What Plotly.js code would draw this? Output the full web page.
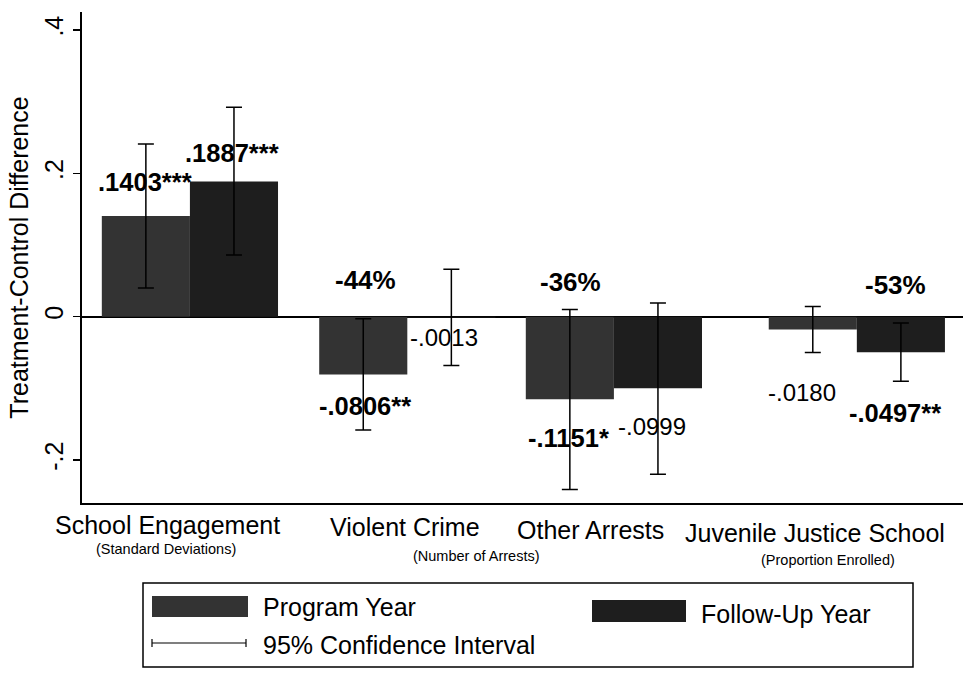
<!DOCTYPE html>
<html><head><meta charset="utf-8">
<script src="https://cdn.plot.ly/plotly-3.0.1.min.js"></script>
<style>html,body{margin:0;padding:0;background:#fff;} #chart{width:963px;height:673px;}</style>
</head><body><div id="chart"></div>
<script>
// ---- data ----
const categories = ['School Engagement', 'Violent Crime', 'Other Arrests', 'Juvenile Justice School'];
const unitLabels = ['(Standard Deviations)', '(Number of Arrests)', '(Proportion Enrolled)'];
const programYear = [0.1403, -0.0806, -0.1151, -0.0180];
const followUpYear = [0.1887, -0.0013, -0.0999, -0.0497];
const programLower = [0.040, -0.158, -0.241, -0.050];
const programUpper = [0.241, -0.003, 0.010, 0.014];
const followLower = [0.086, -0.068, -0.220, -0.090];
const followUpper = [0.292, 0.066, 0.019, -0.009];
const programLabels = ['.1403***', '-.0806**', '-.1151*', '-.0180'];
const followLabels = ['.1887***', '-.0013', '-.0999', '-.0497**'];
const reductionLabels = ['', '-44%', '-36%', '-53%'];
const yTickVals = [-0.2, 0, 0.2, 0.4];
const yTickText = ['-.2', '0', '.2', '.4'];
const legendNames = ['Program Year', 'Follow-Up Year', '95% Confidence Interval'];

// ---- styling / layout helpers ----
const FONT = 'Liberation Sans, Arial, Helvetica, sans-serif';
const L = 82, T = 12, W = 881, H = 491;
const px = x => (x - L) / W;
const py = y => (T + H - y) / H;
const COL_PROG = '#333333', COL_FOLL = '#1e1e1e';
const BAR_W = 0.4;
// small per-group horizontal shifts (category units) to follow the original spacing
const groupShift = [-0.01, -0.023, -0.085, 0.018];

const programPos = [[145,182],[365,406],[568,438],[802,392]];
const followPos = [[232,153],[444,337],[652,426],[895,413]];
const reductionPos = [null,[365,280],[570,282],[895,285]];
const catPos = [[167,525],[405,527],[590,530],[815,533]];
const unitPos = [[166,549],[476,556],[828,560]];

function errs(vals, lo, hi) {
  return {type:'data', symmetric:false,
    array: hi.map((h,i)=>h-vals[i]),
    arrayminus: vals.map((v,i)=>v-lo[i]),
    color:'#000', thickness:1.5, width:8};
}

const traces = [
  {type:'bar', name:legendNames[0], x:categories, y:programYear,
   width:BAR_W, offset: groupShift.map(s => -BAR_W + s),
   marker:{color:COL_PROG, line:{width:0}}, error_y: errs(programYear, programLower, programUpper), hoverinfo:'y'},
  {type:'bar', name:legendNames[1], x:categories, y:followUpYear,
   width:BAR_W, offset: groupShift.map(s => s),
   marker:{color:COL_FOLL, line:{width:0}}, error_y: errs(followUpYear, followLower, followUpper), hoverinfo:'y'}
];

const ann = [];
function lab(text, pos, size, bold) {
  if (!pos || !text) return;
  ann.push({xref:'paper', yref:'paper', x:px(pos[0]), y:py(pos[1]), xanchor:'center', yanchor:'middle',
    text: bold ? '<b>'+text+'</b>' : text, showarrow:false, font:{family:FONT, size:size, color:'#000'}});
}
programLabels.forEach((t,i)=>{ const b = t.includes('*'); lab(t, programPos[i], b ? 25.5 : 24, b); });
followLabels.forEach((t,i)=>{ const b = t.includes('*'); lab(t, followPos[i], b ? 25.5 : 24, b); });
reductionLabels.forEach((t,i)=>lab(t, reductionPos[i], 26, true));
categories.forEach((t,i)=>lab(t, catPos[i], 25, false));
unitLabels.forEach((t,i)=>lab(t, unitPos[i], 14.5, false));

// legend (manual, to match the boxed two-column layout)
function legText(t, x, y) {
  ann.push({xref:'paper', yref:'paper', x:px(x), y:py(y), xanchor:'left', yanchor:'middle',
    text:t, showarrow:false, font:{family:FONT, size:25, color:'#000'}});
}
legText(legendNames[0], 261, 607);
legText(legendNames[1], 699, 614);
legText(legendNames[2], 261, 645);

const shapes = [
  {type:'rect', xref:'paper', yref:'paper', x0:px(143), x1:px(913), y0:py(583), y1:py(667), line:{color:'#000', width:1.5}, fillcolor:'rgba(0,0,0,0)'},
  {type:'rect', xref:'paper', yref:'paper', x0:px(152), x1:px(248), y0:py(596), y1:py(617), line:{width:0}, fillcolor:COL_PROG},
  {type:'rect', xref:'paper', yref:'paper', x0:px(592), x1:px(686), y0:py(600), y1:py(622), line:{width:0}, fillcolor:COL_FOLL},
  {type:'line', xref:'paper', yref:'paper', x0:px(152), x1:px(246), y0:py(643), y1:py(643), line:{color:'#000', width:1.2}},
  {type:'line', xref:'paper', yref:'paper', x0:px(152), x1:px(152), y0:py(639), y1:py(647), line:{color:'#000', width:1.2}},
  {type:'line', xref:'paper', yref:'paper', x0:px(246), x1:px(246), y0:py(639), y1:py(647), line:{color:'#000', width:1.2}}
];

const layout = {
  width:963, height:673,
  margin:{l:L, r:0, t:T, b:673-T-H, autoexpand:false},
  paper_bgcolor:'#fff', plot_bgcolor:'#fff',
  showlegend:false,
  barmode:'overlay',
  font:{family:FONT, color:'#000'},
  xaxis:{type:'category', range:[-0.5,3.5], showline:true, linecolor:'#000', linewidth:2,
    showticklabels:false, ticks:'', showgrid:false, zeroline:false, fixedrange:true},
  yaxis:{range:[-0.26,0.425], tickvals:yTickVals, ticktext:yTickText, tickangle:-90,
    ticks:'outside', ticklen:7, tickwidth:1.5, tickcolor:'#000', ticklabelstandoff:0,
    tickfont:{family:FONT, size:25, color:'#000'},
    showline:true, linecolor:'#000', linewidth:2, showgrid:false,
    zeroline:true, zerolinecolor:'#000', zerolinewidth:2, automargin:false,
    title:{text:'Treatment-Control Difference', font:{family:FONT, size:25, color:'#000'}, standoff:4}},
  annotations: ann,
  shapes: shapes
};

Plotly.newPlot('chart', traces, layout, {displayModeBar:false, staticPlot:true});
</script>
</body></html>
